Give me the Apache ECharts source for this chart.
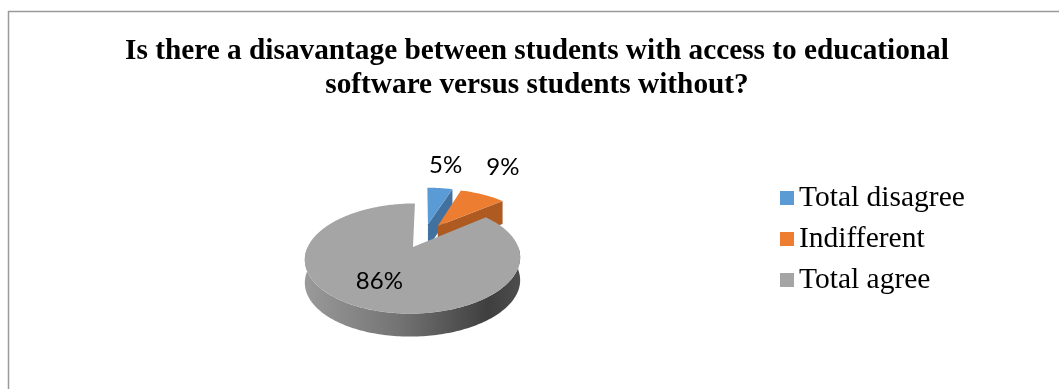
<!DOCTYPE html>
<html>
<head>
<meta charset="utf-8">
<script src="https://cdn.jsdelivr.net/npm/echarts@6/dist/echarts.min.js"></script>
<style>
  html, body { margin: 0; padding: 0; background: #fff; }
  #chart { width: 1059px; height: 389px; }
</style>
</head>
<body>
<div id="chart"></div>
<script>
const titleLines = [
  'Is there a disavantage between students with access to educational',
  'software versus students without?'
];
const categories = ['Total disagree', 'Indifferent', 'Total agree'];
const shares = [5, 9, 86];
const topColors = ['#5b9bd5', '#ed7d31', '#a5a5a5'];
const cutColors = ['#41729f', '#ae5a21', '#7c7c7c'];

// Tilted, exploded 3D pie: disc coords (u right, v away from viewer), h = 0 top / 1 bottom
const PIE = { cx: 424.2, cy: 235.6, rx: 100.5, ry: 48, depth: 23, persp: 0.2, explode: 0.25 };

function project(u, v, h) {
  const s = 1 / (1 + PIE.persp * v);
  return [PIE.cx + PIE.rx * u * s, PIE.cy - PIE.ry * v * s + PIE.depth * h];
}

function wallFill(i) {
  if (i === 2) {
    return new echarts.graphic.LinearGradient(0, 0, 1, 0, [
      { offset: 0, color: '#9a9a9a' },
      { offset: 0.45, color: '#727272' },
      { offset: 0.85, color: '#3f3f3f' },
      { offset: 1, color: '#4d4d4d' }
    ]);
  }
  return cutColors[i];
}

function sliceRenderer(i) {
  return function (params, api) {
    const total = shares.reduce((a, b) => a + b, 0);
    let before = 0;
    for (let k = 0; k < i; k++) before += shares[k];
    const val = api.value(0);
    const a0 = before / total * 2 * Math.PI;
    const a1 = (before + val) / total * 2 * Math.PI;
    const mid = (a0 + a1) / 2;
    const ou = PIE.explode * Math.sin(mid);
    const ov = PIE.explode * Math.cos(mid);
    const pt = (r, th, h) => project(ou + r * Math.sin(th), ov + r * Math.cos(th), h);
    const arc = (from, to, h) => {
      const n = Math.max(2, Math.ceil((to - from) / 0.02));
      const out = [];
      for (let j = 0; j <= n; j++) out.push(pt(1, from + (to - from) * j / n, h));
      return out;
    };
    const children = [];

    // outer wall on the near half
    const w0 = Math.max(a0, Math.PI / 2);
    const w1 = Math.min(a1, 1.5 * Math.PI);
    if (w1 > w0) {
      children.push({
        type: 'polygon',
        shape: { points: arc(w0, w1, 0).concat(arc(w0, w1, 1).reverse()) },
        style: { fill: wallFill(i) }
      });
    }

    // radial cut faces that turn towards the viewer
    [[a0, a0 - Math.PI / 2], [a1, a1 + Math.PI / 2]].forEach(([a, n]) => {
      if (Math.cos(n) < -1e-6) {
        children.push({
          type: 'polygon',
          shape: { points: [pt(0, 0, 0), pt(1, a, 0), pt(1, a, 1), pt(0, 0, 1)] },
          style: { fill: cutColors[i] }
        });
      }
    });

    // top face
    children.push({
      type: 'polygon',
      shape: { points: [pt(0, 0, 0)].concat(arc(a0, a1, 0)) },
      style: { fill: api.visual('color') }
    });

    // percentage label: outside the rim (pushed up and out) for thin slices, inside for the large one
    const frac = val / total;
    let lp;
    if (frac < 0.2) {
      const rim = pt(1, mid, 0);
      lp = [rim[0] + 36 * Math.sin(mid), rim[1] - 28 * Math.cos(mid - Math.PI / 4)];
    } else {
      lp = pt(0.63, mid, 0);
    }
    children.push({
      type: 'text',
      style: {
        text: Math.round(frac * 100) + '%',
        x: lp[0], y: lp[1],
        align: 'center', verticalAlign: 'middle',
        font: '24px Lato, "Liberation Sans", sans-serif',
        fill: '#000'
      }
    });

    return { type: 'group', children };
  };
}

const chart = echarts.init(document.getElementById('chart'), null, { renderer: 'canvas' });
chart.setOption({
  animation: false,
  title: {
    text: titleLines.join('\n'),
    left: 532, top: 29, textAlign: 'center',
    textStyle: {
      fontFamily: '"Liberation Serif", "Times New Roman", serif',
      fontWeight: 'bold', fontSize: 29.3, lineHeight: 34, color: '#000'
    }
  },
  legend: {
    data: categories,
    orient: 'vertical',
    left: 775, top: 178,
    icon: 'rect', itemWidth: 14, itemHeight: 14, itemGap: 11,
    selectedMode: false,
    textStyle: {
      fontFamily: '"Liberation Serif", "Times New Roman", serif',
      fontSize: 29.5, lineHeight: 29.5, color: '#000'
    }
  },
  graphic: [
    { type: 'line', shape: { x1: 8.5, y1: 11, x2: 8.5, y2: 389 }, style: { stroke: '#9a9a9a', lineWidth: 1.5 } },
    { type: 'line', shape: { x1: 8, y1: 11.5, x2: 1059, y2: 11.5 }, style: { stroke: '#9a9a9a', lineWidth: 1.5 } }
  ],
  series: categories.map((name, i) => ({
    type: 'custom',
    name,
    coordinateSystem: 'none',
    silent: true,
    z: 2 + i,
    itemStyle: { color: topColors[i] },
    data: [[shares[i]]],
    renderItem: sliceRenderer(i)
  }))
});
</script>
</body>
</html>
